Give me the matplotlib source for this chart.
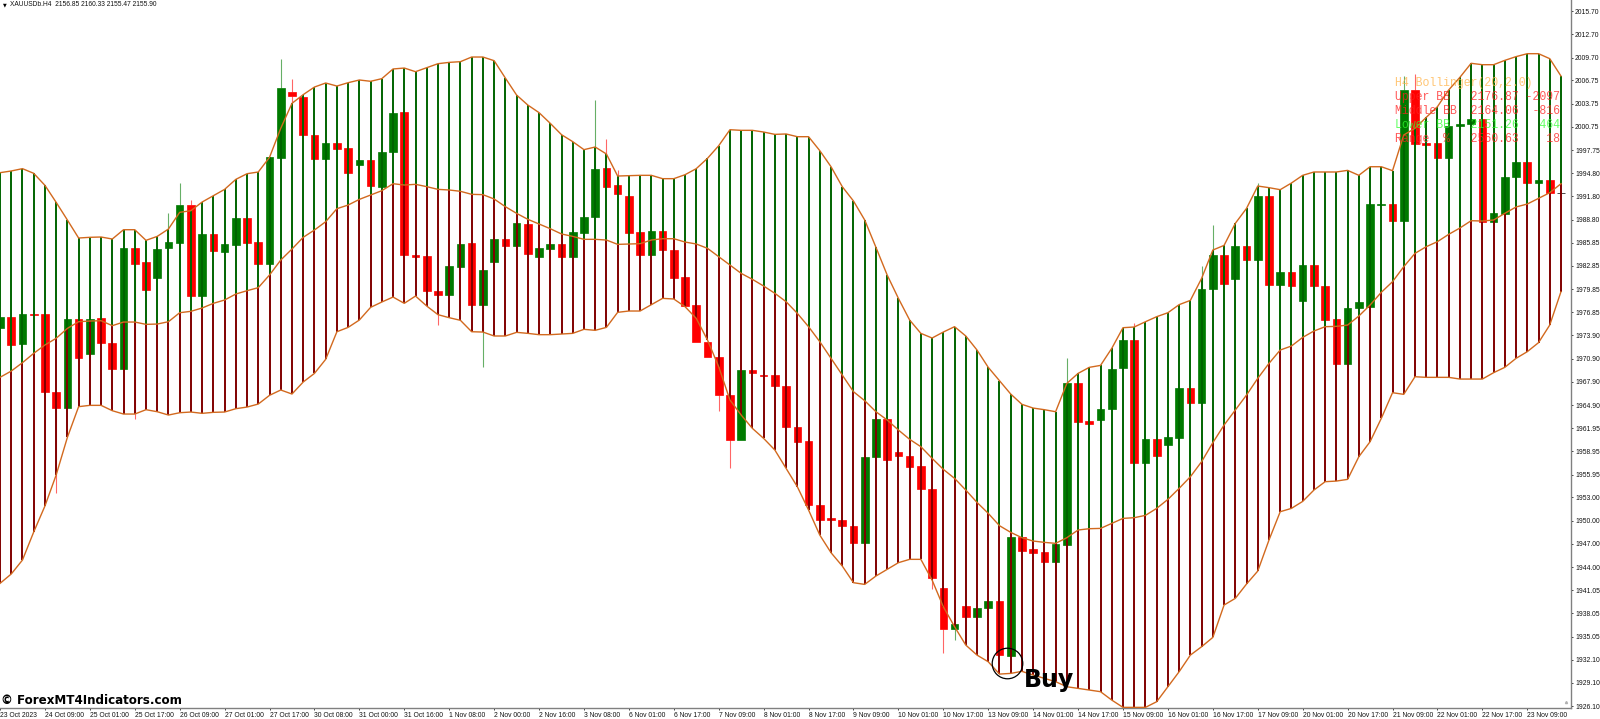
import numpy as np
import matplotlib
matplotlib.use("Agg")
import matplotlib.pyplot as plt

# Bollinger bands, one value per H4 bar
upper = [1994.86, 1995.08, 1995.38, 1994.78, 1993.23, 1991.04, 1988.76, 1986.44, 1986.53, 1986.57, 1986.31, 1987.51,
         1987.51, 1986.14, 1986.65, 1987.60, 1989.75, 1989.96, 1991.08, 1991.90, 1992.71, 1994.00, 1994.73, 1994.95,
         1996.84, 2000.58, 2003.80, 2004.92, 2005.90, 2006.42, 2006.03, 2006.46, 2006.81, 2006.64, 2006.98, 2008.23,
         2008.35, 2007.88, 2008.40, 2008.91, 2009.08, 2009.17, 2009.77, 2009.77, 2009.30, 2007.06, 2004.87, 2003.58,
         2002.60, 2001.22, 1999.76, 1998.86, 1997.83, 1998.17, 1997.27, 1994.43, 1994.47, 1994.52, 1994.52, 1994.09,
         1994.09, 1994.60, 1995.38, 1996.71, 1998.34, 2000.40, 2000.32, 2000.32, 2000.10, 1999.80, 1999.85, 1999.50,
         1999.50, 1997.70, 1995.63, 1993.06, 1991.21, 1988.76, 1985.24, 1981.67, 1978.66, 1975.87, 1974.15, 1973.55,
         1974.32, 1975.01, 1973.81, 1972.00, 1969.77, 1968.05, 1966.33, 1965.00, 1964.52, 1964.31, 1964.05, 1967.70,
         1968.99, 1969.77, 1970.02, 1972.22, 1974.88, 1974.97, 1975.65, 1976.30, 1976.81, 1977.85, 1978.40, 1981.24,
         1984.89, 1985.49, 1988.33, 1990.26, 1993.14, 1992.93, 1992.67, 1993.53, 1994.52, 1994.95, 1994.95, 1994.95,
         1995.16, 1994.52, 1995.63, 1995.63, 1995.12, 1999.72, 2000.58, 2001.99, 2003.37, 2005.52, 2007.15, 2008.96,
         2008.78, 2008.78, 2009.34, 2009.82, 2010.20, 2010.20, 2009.56, 2007.32]
middle = [1968.48, 1969.29, 1970.37, 1971.57, 1972.65, 1973.51, 1974.79, 1975.65, 1975.74, 1975.78, 1975.14, 1975.61,
          1975.61, 1975.31, 1975.35, 1975.65, 1976.81, 1976.99, 1977.42, 1978.02, 1978.45, 1979.22, 1979.65, 1980.04,
          1981.67, 1983.60, 1985.02, 1986.53, 1987.47, 1988.54, 1990.22, 1990.69, 1991.42, 1991.98, 1992.54, 1993.44,
          1993.27, 1993.36, 1993.06, 1992.71, 1992.63, 1992.46, 1992.07, 1992.03, 1991.47, 1990.48, 1989.62, 1988.85,
          1988.24, 1987.64, 1986.96, 1986.65, 1986.27, 1986.27, 1986.18, 1985.62, 1985.67, 1985.71, 1986.18, 1986.35,
          1986.35, 1985.92, 1985.67, 1985.11, 1984.03, 1982.96, 1981.88, 1981.11, 1980.25, 1979.31, 1978.23, 1976.73,
          1975.01, 1973.08, 1970.93, 1968.78, 1966.63, 1965.47, 1964.05, 1962.98, 1961.69, 1960.49, 1959.54, 1958.04,
          1956.62, 1955.46, 1953.95, 1952.36, 1950.95, 1949.36, 1948.50, 1947.81, 1947.38, 1947.21, 1947.08, 1947.81,
          1948.80, 1948.97, 1949.01, 1949.66, 1950.30, 1950.39, 1950.69, 1951.59, 1952.75, 1954.17, 1955.67, 1957.61,
          1960.06, 1962.33, 1964.27, 1966.20, 1968.35, 1970.28, 1972.00, 1972.52, 1973.63, 1974.45, 1975.01, 1975.05,
          1975.22, 1976.38, 1977.80, 1979.44, 1980.81, 1982.74, 1984.46, 1985.32, 1985.97, 1986.91, 1987.73, 1988.67,
          1988.63, 1988.76, 1989.62, 1990.44, 1990.82, 1991.55, 1992.28, 1993.44]
lower = [1941.92, 1943.13, 1944.93, 1948.54, 1951.89, 1955.89, 1960.74, 1964.70, 1964.87, 1964.87, 1964.18, 1963.75,
         1963.75, 1964.31, 1964.05, 1963.62, 1963.92, 1964.01, 1963.84, 1963.97, 1964.01, 1964.44, 1964.65, 1965.04,
         1966.16, 1966.85, 1966.33, 1967.88, 1968.99, 1970.80, 1974.36, 1974.92, 1975.87, 1977.50, 1978.19, 1978.83,
         1978.02, 1978.96, 1977.67, 1976.56, 1976.17, 1975.83, 1974.36, 1974.32, 1973.81, 1973.81, 1974.28, 1974.15,
         1973.98, 1973.98, 1974.06, 1974.15, 1974.67, 1974.54, 1974.92, 1976.86, 1977.03, 1977.03, 1977.85, 1978.66,
         1978.58, 1977.59, 1976.08, 1973.29, 1969.85, 1965.56, 1963.62, 1961.90, 1960.61, 1959.11, 1956.75, 1954.38,
         1951.38, 1948.15, 1945.88, 1944.16, 1942.01, 1941.79, 1942.87, 1943.73, 1944.59, 1945.02, 1945.02, 1942.35,
         1938.91, 1936.34, 1933.97, 1932.68, 1931.82, 1930.23, 1930.32, 1930.58, 1930.11, 1929.68, 1929.25, 1928.60,
         1928.39, 1928.17, 1927.96, 1926.88, 1925.94, 1925.94, 1925.94, 1926.67, 1928.60, 1930.54, 1932.68, 1933.76,
         1934.96, 1939.13, 1939.99, 1941.84, 1943.51, 1947.51, 1951.16, 1951.59, 1952.49, 1953.95, 1955.03, 1955.11,
         1955.33, 1958.25, 1960.18, 1963.19, 1966.50, 1966.29, 1968.56, 1968.48, 1968.48, 1968.48, 1968.26, 1968.26,
         1968.26, 1969.08, 1969.77, 1970.93, 1971.79, 1972.95, 1975.22, 1979.52]

# candle bodies
opens = [1974.79, 1976.30, 1972.82, 1976.64, 1976.60, 1966.63, 1964.57, 1976.00, 1971.44, 1976.13, 1972.95, 1969.55,
         1985.11, 1983.30, 1981.33, 1985.11, 1985.75, 1990.69, 1978.96, 1986.96, 1984.68, 1985.54, 1988.97, 1985.88,
         1983.04, 1996.79, 2005.26, 2004.66, 1999.72, 1996.62, 1998.64, 1998.00, 1995.89, 1996.49, 1993.06, 1997.53,
         2002.64, 1984.25, 1984.08, 1979.65, 1979.05, 1982.74, 1985.79, 1977.76, 1983.30, 1986.31, 1985.45, 1988.24,
         1983.95, 1985.06, 1985.71, 1983.95, 1987.13, 1989.10, 1995.46, 1993.23, 1991.85, 1987.17, 1984.29, 1987.34,
         1984.89, 1981.37, 1977.80, 1973.03, 1971.10, 1966.24, 1960.40, 1969.42, 1968.78, 1968.78, 1967.32, 1962.08,
         1960.27, 1952.02, 1950.30, 1950.13, 1949.31, 1947.12, 1958.16, 1963.06, 1958.90, 1958.34, 1957.01, 1954.04,
         1941.28, 1935.99, 1939.00, 1937.63, 1938.70, 1939.64, 1932.60, 1947.94, 1946.35, 1945.92, 1944.67, 1946.91,
         1967.79, 1962.85, 1962.93, 1964.44, 1969.64, 1973.29, 1957.44, 1960.53, 1959.76, 1960.70, 1967.06, 1965.13,
         1979.87, 1984.25, 1981.15, 1985.41, 1983.56, 1991.90, 1980.38, 1982.06, 1978.36, 1982.92, 1980.29, 1975.95,
         1970.20, 1977.42, 1977.59, 1990.74, 1990.87, 1988.67, 2005.52, 1998.64, 1998.73, 1996.71, 2000.88, 2001.14,
         2001.82, 1988.46, 1989.49, 1994.30, 1996.24, 1993.57, 1993.87, 1992.20]
closes = [1976.21, 1972.69, 1976.64, 1976.56, 1966.63, 1964.57, 1976.00, 1970.97, 1976.00, 1972.86, 1969.55, 1985.19,
          1983.13, 1979.69, 1985.06, 1985.88, 1990.69, 1978.96, 1986.96, 1984.76, 1985.62, 1988.97, 1985.84, 1983.13,
          1996.84, 2005.78, 2004.74, 1999.72, 1996.62, 1998.64, 1997.96, 1994.82, 1996.49, 1993.10, 1997.53, 2002.60,
          1984.25, 1983.95, 1979.61, 1979.05, 1982.83, 1985.67, 1977.80, 1982.27, 1986.31, 1985.45, 1988.33, 1984.42,
          1985.11, 1985.62, 1983.95, 1987.17, 1989.15, 1995.29, 1993.06, 1992.15, 1987.13, 1984.29, 1987.34, 1984.85,
          1981.33, 1977.67, 1972.99, 1971.06, 1966.20, 1960.40, 1969.42, 1969.08, 1968.69, 1967.36, 1962.03, 1960.18,
          1952.02, 1950.09, 1950.13, 1949.27, 1947.12, 1958.21, 1963.06, 1957.86, 1958.29, 1956.88, 1954.08, 1942.57,
          1935.99, 1936.68, 1937.63, 1938.74, 1939.64, 1932.73, 1947.90, 1946.13, 1945.83, 1944.67, 1947.04, 1967.79,
          1962.76, 1962.50, 1964.44, 1969.59, 1973.29, 1957.44, 1960.53, 1958.38, 1960.83, 1967.06, 1965.13, 1979.87,
          1984.25, 1980.55, 1985.41, 1983.60, 1991.90, 1980.38, 1982.06, 1980.29, 1982.92, 1980.25, 1975.87, 1970.20,
          1977.46, 1978.19, 1990.78, 1990.82, 1988.67, 2005.52, 1998.60, 1998.47, 1996.71, 2000.92, 2001.14, 2001.82,
          1988.54, 1989.62, 1994.30, 1996.28, 1993.53, 1993.92, 1992.20, 1992.20]

# only the wicks that stick out of the bands are worth keeping
high_idx = [15, 16, 17, 25, 26, 53, 54, 55, 95, 101, 107, 108, 112, 125, 126]
high_val = [1989.62, 1993.49, 1991.34, 2009.51, 2006.89, 2004.23, 1999.20, 1995.21, 1970.97, 1975.44, 1982.87, 1988.12,
            1993.49, 2007.32, 2007.58]
low_idx = [5, 12, 26, 39, 43, 64, 65, 83, 84, 85]
low_val = [1953.61, 1963.06, 2004.01, 1975.22, 1969.85, 1964.18, 1956.75, 1941.15, 1932.99, 1934.62]

y_ticks = [2015.70, 2012.70, 2009.70, 2006.75, 2003.75, 2000.75, 1997.75, 1994.80, 1991.80, 1988.80, 1985.85, 1982.85,
           1979.85, 1976.85, 1973.90, 1970.90, 1967.90, 1964.90, 1961.95, 1958.95, 1955.95, 1953.00, 1950.00, 1947.00,
           1944.00, 1941.05, 1938.05, 1935.05, 1932.10, 1929.10, 1926.10]
x_labels = ["23 Oct 2023", "24 Oct 09:00", "25 Oct 01:00", "25 Oct 17:00", "26 Oct 09:00", "27 Oct 01:00", "27 Oct 17:00",
            "30 Oct 08:00", "31 Oct 00:00", "31 Oct 16:00", "1 Nov 08:00", "2 Nov 00:00", "2 Nov 16:00", "3 Nov 08:00",
            "6 Nov 01:00", "6 Nov 17:00", "7 Nov 09:00", "8 Nov 01:00", "8 Nov 17:00", "9 Nov 09:00", "10 Nov 01:00",
            "10 Nov 17:00", "13 Nov 09:00", "14 Nov 01:00", "14 Nov 17:00", "15 Nov 09:00", "16 Nov 01:00", "16 Nov 17:00",
            "17 Nov 09:00", "20 Nov 01:00", "20 Nov 17:00", "21 Nov 09:00", "22 Nov 01:00", "22 Nov 17:00", "23 Nov 09:00"]

panel_lines = ["H4 Bollinger(20,2.0)", "Upper BB   2176.87 -2097", "Middle BB  2164.06  -816",
               "Lower BB   2151.26   464", "Range  %   2560.63    18"]
panel_colors = ["#FFB347", "#FF2020", "#FF2020", "#30FF30", "#FF2020"]

W, H = 1600, 719
BAR_PX = 11.23          # pixels per bar
PRICE_PX = 0.1289       # price per pixel
AXIS_X, AXIS_Y = 1570.7, 707.7
TOP_PRICE = 2017.12

fig = plt.figure(figsize=(W / 100, H / 100), dpi=100, facecolor="white")
ax = fig.add_axes([0, (H - AXIS_Y) / H, AXIS_X / W, AXIS_Y / H])
ax.set_xlim(0, AXIS_X / BAR_PX)
ax.set_ylim(TOP_PRICE - AXIS_Y * PRICE_PX, TOP_PRICE)

x = np.arange(len(upper))
o = np.array(opens)
c = np.array(closes)

# candles
body_col = np.where(c > o, "#007A00", "#FF0000")
body_col = np.where(c == o, "#000000", body_col)
ax.bar(x, np.abs(c - o), bottom=np.minimum(o, c), width=0.68, color=body_col,
       edgecolor=body_col, linewidth=0.5, zorder=2)
ax.vlines(high_idx, np.maximum(o, c)[high_idx], high_val, colors=body_col[high_idx], lw=0.8, alpha=0.6, zorder=2)
ax.vlines(low_idx, np.minimum(o, c)[low_idx], low_val, colors=body_col[low_idx], lw=0.8, alpha=0.6, zorder=2)

# band histogram
ax.vlines(x, middle, upper, colors="#006400", lw=1.4, zorder=3)
ax.vlines(x, lower, middle, colors="#800000", lw=1.4, zorder=3)

for band in (upper, middle, lower):
    ax.plot(x, band, color="#D2691E", lw=1.0, zorder=4)

# buy marker
ax.plot([89.64], [1931.65], marker="o", ms=22, mfc="none", mec="black", mew=0.9, zorder=5)
ax.text(91.2, 1928.56, "Buy", fontsize=17, fontweight="bold", family="DejaVu Sans", color="black",
        va="baseline", ha="left", zorder=6)
ax.plot([139.45], [1926.63], marker="^", ms=1.5, color="#B0B0B0", zorder=5)

for i, (line, col) in enumerate(zip(panel_lines, panel_colors)):
    fig.text(1395 / W, 1 - (82.7 + 14 * i) / H, line, color=col, alpha=0.75, family="Liberation Mono",
             fontsize=8.3, va="center", ha="left", zorder=7)

ax.yaxis.tick_right()
ax.set_yticks(y_ticks)
ax.set_yticklabels(["%.2f" % v for v in y_ticks])
ax.set_xticks(np.arange(len(x_labels)) * 4)
ax.set_xticklabels(x_labels, ha="left")
ax.tick_params(axis="both", length=1.6, width=0.6, color="#222222", labelsize=4.9, pad=1.5, labelcolor="#111111")
for lab in ax.get_xticklabels() + ax.get_yticklabels():
    lab.set_family("Liberation Sans")
for side in ("top", "left"):
    ax.spines[side].set_visible(False)
for side in ("right", "bottom"):
    ax.spines[side].set_color("#808080")
    ax.spines[side].set_linewidth(1.0)

fig.text(3 / W, 1 - 4.5 / H, "\u25BC", fontsize=3.5, family="DejaVu Sans", color="black", va="center")
fig.text(10 / W, 1 - 4 / H, "XAUUSDb.H4  2156.85 2160.33 2155.47 2155.90", fontsize=4.75, family="Liberation Sans",
         color="#111111", va="center")
fig.text(1 / W, 1 - 701 / H, "\u00A9 ForexMT4Indicators.com", fontsize=8.6, fontweight="bold",
         family="DejaVu Sans", color="black", va="center", zorder=7)

fig.savefig("out.png", dpi=100)
